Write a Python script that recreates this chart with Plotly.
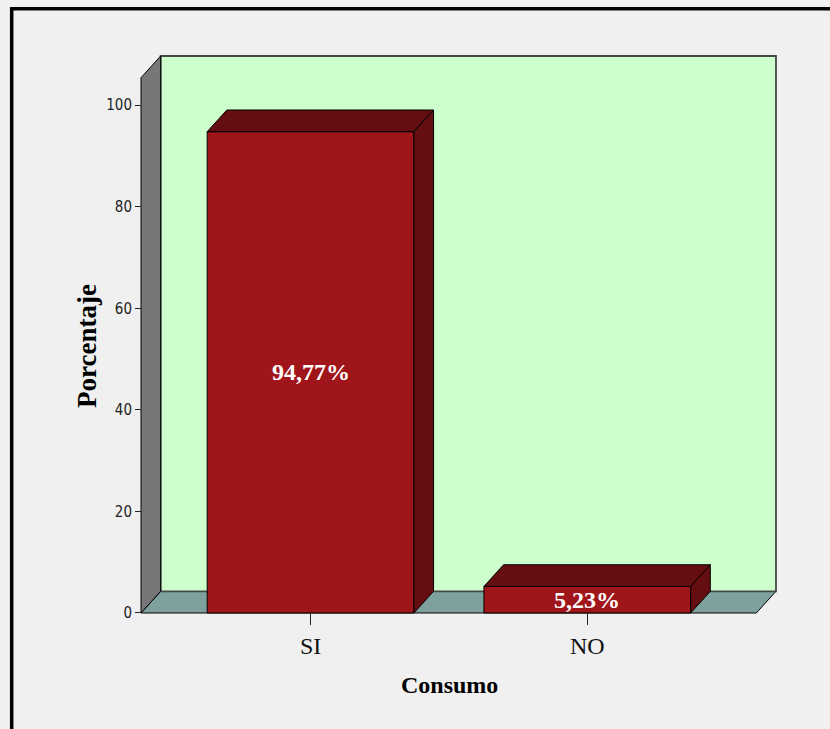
import plotly.graph_objects as go

# ---- data ----
categories = ["SI", "NO"]
values = [94.77, 5.23]
y_ticks = [0, 20, 40, 60, 80, 100]
x_title = "Consumo"
y_title = "Porcentaje"

# ---- geometry / style (data units of the front plane) ----
W, H = 830, 729
X0, X1 = -0.6126, 1.6108     # front plane x extent
YTOP = 105.4                 # front plane top
DX, DY = 0.071, 4.27         # depth offset
BAR_W = 0.747
PADX, PADY = 0.0145, 0.79

BG = "#F0F0F0"
BACK = "#CCFFCC"
LEFT = "#777777"
FLOOR = "#7FA19D"
BAR_FRONT = "#A0151A"
BAR_DARK = "#650E11"

def poly(pts):
    return "M " + " L ".join(f"{x},{y}" for x, y in pts) + " Z"

shapes = []
# floor
shapes.append(dict(type="path", xref="x", yref="y", layer="below",
                   path=poly([(X0, 0), (X1, 0), (X1 + DX, DY), (X0 + DX, DY)]),
                   fillcolor=FLOOR, line=dict(color="black", width=1)))
# back wall
shapes.append(dict(type="path", xref="x", yref="y", layer="below",
                   path=poly([(X0 + DX, DY), (X1 + DX, DY), (X1 + DX, YTOP + DY), (X0 + DX, YTOP + DY)]),
                   fillcolor=BACK, line=dict(color="#474747", width=1.8)))
# left wall
shapes.append(dict(type="path", xref="x", yref="y", layer="below",
                   path=poly([(X0, 0), (X0, YTOP), (X0 + DX, YTOP + DY), (X0 + DX, DY)]),
                   fillcolor=LEFT, line=dict(color="black", width=1)))

# bar top and side faces
for i, v in enumerate(values):
    xl, xr = i - BAR_W / 2, i + BAR_W / 2
    shapes.append(dict(type="path", xref="x", yref="y", layer="above",
                       path=poly([(xl, v), (xl + DX, v + DY), (xr + DX, v + DY), (xr, v)]),
                       fillcolor=BAR_DARK, line=dict(color="black", width=1)))
    shapes.append(dict(type="path", xref="x", yref="y", layer="above",
                       path=poly([(xr, 0), (xr, v), (xr + DX, v + DY), (xr + DX, DY)]),
                       fillcolor=BAR_DARK, line=dict(color="black", width=1)))

# outer frame
shapes.append(dict(type="rect", xref="paper", yref="paper",
                   x0=11.7 / W, x1=840 / W, y0=-20 / H, y1=(H - 8.7) / H,
                   line=dict(color="black", width=3.5), fillcolor="rgba(0,0,0,0)"))

fig = go.Figure()
fig.add_trace(go.Bar(
    x=list(range(len(categories))), y=values, width=BAR_W,
    marker=dict(color=BAR_FRONT, line=dict(color="black", width=1)),
    hoverinfo="skip", showlegend=False))

annotations = []
for i, v in enumerate(values):
    annotations.append(dict(x=i, y=v / 2, xref="x", yref="y", showarrow=False,
                            xanchor="center", yanchor="middle",
                            text=f"{v:.2f}%".replace(".", ","),
                            font=dict(family="Liberation Serif", size=24, color="white", weight="bold")))
annotations.append(dict(x=449 / W, y=(H - 685) / H, xref="paper", yref="paper", showarrow=False,
                        xanchor="center", yanchor="middle",
                        text=f"<b>{x_title}</b>",
                        font=dict(family="Liberation Serif", size=24, color="black")))
annotations.append(dict(x=87 / W, y=(H - 346) / H, xref="paper", yref="paper", showarrow=False,
                        xanchor="center", yanchor="middle",
                        text=f"<b>{y_title}</b>", textangle=-90,
                        font=dict(family="Liberation Serif", size=27, color="black")))

fig.update_layout(
    width=W, height=H, autosize=False,
    margin=dict(l=0, r=0, t=0, b=0),
    paper_bgcolor=BG, plot_bgcolor="rgba(0,0,0,0)",
    shapes=shapes, annotations=annotations,
    xaxis=dict(domain=[(141 - 4) / W, (776 + 4) / W],
               range=[X0 - PADX, X1 + DX + PADX], automargin=False,
               anchor="free", position=(H - 613) / H,
               tickmode="array", tickvals=list(range(len(categories))), ticktext=categories,
               ticks="outside", ticklen=11, tickcolor="#222", tickwidth=1,
               showline=False, showgrid=False, zeroline=False,
               tickfont=dict(family="Liberation Serif", size=24, color="#111")),
    yaxis=dict(domain=[(H - 617) / H, (H - 52) / H],
               range=[-PADY, YTOP + DY + PADY], automargin=False,
               anchor="free", position=141 / W,
               tickmode="array", tickvals=y_ticks,
               ticks="outside", ticklen=6, tickcolor="#222", tickwidth=1,
               showline=False, showgrid=False, zeroline=False,
               tickfont=dict(family="Liberation Sans Narrow, DejaVu Sans Condensed, sans-serif", size=15, color="#222")),
)

fig.write_html("out.html",
               config={"responsive": False, "displayModeBar": False, "staticPlot": True},
               post_script="document.body.style.margin='0';document.body.style.background='#F0F0F0';document.body.style.overflow='hidden';")
